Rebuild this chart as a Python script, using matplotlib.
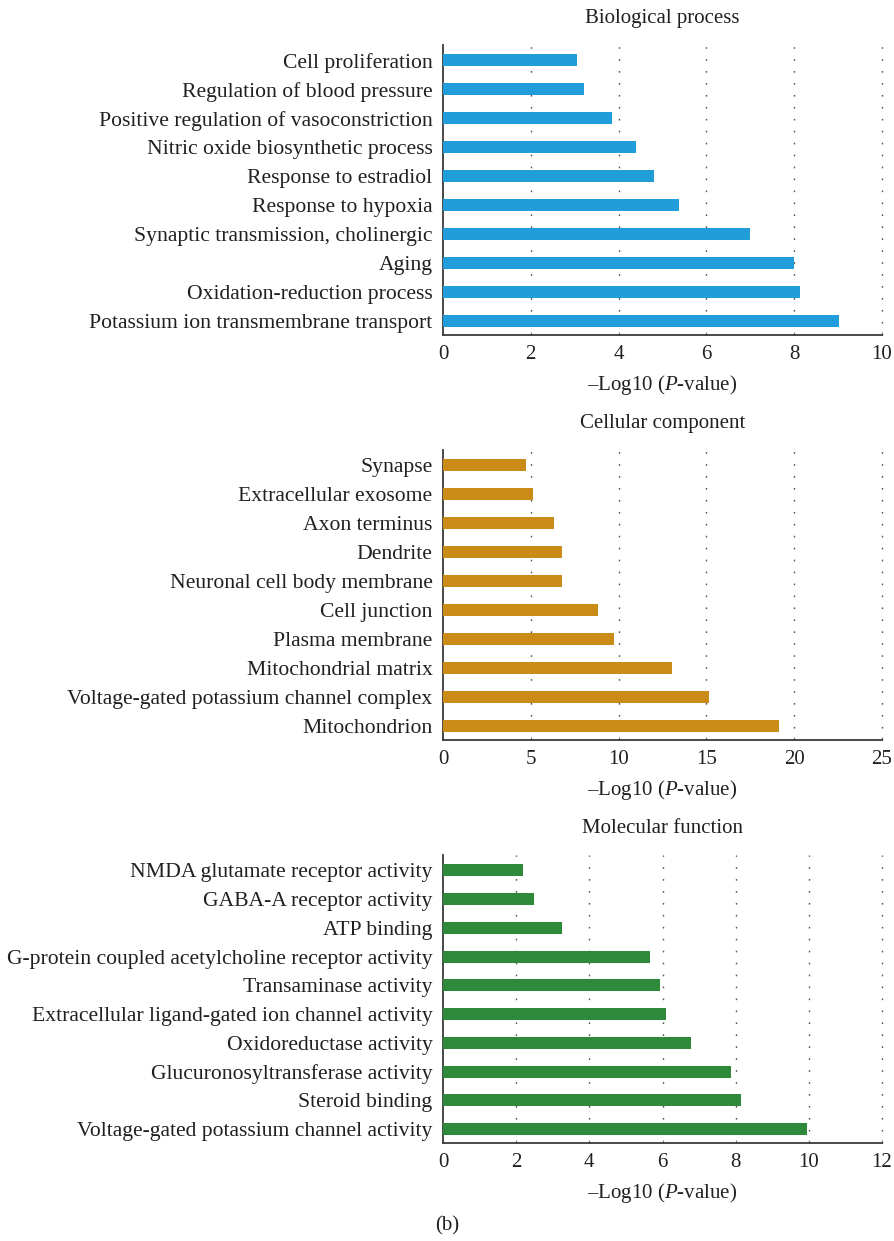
import matplotlib
matplotlib.use("Agg")
import matplotlib.pyplot as plt
import numpy as np

plt.rcParams["font.family"] = ["Liberation Serif", "DejaVu Serif"]
plt.rcParams["mathtext.fontset"] = "custom"
plt.rcParams["mathtext.rm"] = "Liberation Serif"
plt.rcParams["mathtext.it"] = "Liberation Serif:italic"

# Terms listed top to bottom, with their -log10(P) enrichment scores
bp_terms = [
    "Cell proliferation",
    "Regulation of blood pressure",
    "Positive regulation of vasoconstriction",
    "Nitric oxide biosynthetic process",
    "Response to estradiol",
    "Response to hypoxia",
    "Synaptic transmission, cholinergic",
    "Aging",
    "Oxidation-reduction process",
    "Potassium ion transmembrane transport",
]
bp_values = [3.05, 3.21, 3.85, 4.40, 4.81, 5.38, 6.99, 8.00, 8.13, 9.02]

cc_terms = [
    "Synapse",
    "Extracellular exosome",
    "Axon terminus",
    "Dendrite",
    "Neuronal cell body membrane",
    "Cell junction",
    "Plasma membrane",
    "Mitochondrial matrix",
    "Voltage-gated potassium channel complex",
    "Mitochondrion",
]
cc_values = [4.73, 5.13, 6.32, 6.78, 6.78, 8.83, 9.74, 13.04, 15.15, 19.13]

mf_terms = [
    "NMDA glutamate receptor activity",
    "GABA-A receptor activity",
    "ATP binding",
    "G-protein coupled acetylcholine receptor activity",
    "Transaminase activity",
    "Extracellular ligand-gated ion channel activity",
    "Oxidoreductase activity",
    "Glucuronosyltransferase activity",
    "Steroid binding",
    "Voltage-gated potassium channel activity",
]
mf_values = [2.19, 2.49, 3.25, 5.66, 5.93, 6.10, 6.78, 7.87, 8.15, 9.95]

panels = [
    ("Biological process", bp_terms, bp_values, "#219EDA", 10, [0, 2, 4, 6, 8, 10]),
    ("Cellular component", cc_terms, cc_values, "#CB8B17", 25, [0, 5, 10, 15, 20, 25]),
    ("Molecular function", mf_terms, mf_values, "#2C8A3A", 12, [0, 2, 4, 6, 8, 10, 12]),
]

W, H = 894, 1241
fig = plt.figure(figsize=(W / 100, H / 100), dpi=100)

# axes boxes in pixels: (left, top, right, bottom)
boxes = [(443, 45, 882, 335), (443, 450, 882, 740), (443, 855, 882, 1143)]

spine_color = "#3a3a3a"
text_color = "#231f20"
fs_lab = 15.6
fs = 15

for (title, terms, values, color, xmax, ticks), (l, t, r, b) in zip(panels, boxes):
    ax = fig.add_axes([l / W, 1 - b / H, (r - l) / W, (b - t) / H])
    n = len(terms)
    y = np.arange(n)[::-1]
    ax.barh(y, values, height=0.42, color=color, zorder=3)
    ax.set_xlim(0, xmax)
    ax.set_ylim(-0.48, n - 1 + 0.53)
    ax.set_yticks(y)
    ax.set_yticklabels(terms, fontsize=fs_lab, color=text_color)
    ax.set_xticks(ticks)
    ax.set_xticklabels([str(v) for v in ticks], fontsize=fs, color=text_color)
    ax.tick_params(axis="y", length=0, pad=7.5)
    ax.tick_params(axis="x", direction="in", length=2, width=0.8,
                   color="#777777", pad=7)
    for tk in ticks[1:]:
        ax.axvline(tk, color="#555555", linewidth=1.0,
                   linestyle=(0, (1.2, 7.4)), zorder=1, clip_on=False)
    for s in ("top", "right"):
        ax.spines[s].set_visible(False)
    for s in ("left", "bottom"):
        ax.spines[s].set_color(spine_color)
        ax.spines[s].set_linewidth(1.3)
    ax.set_title(title, fontsize=fs, color=text_color, pad=16)
    ax.set_xlabel(r"–Log10 ($\it{P}$-value)", fontsize=fs, color=text_color,
                  labelpad=7)

fig.text(447 / W, 1 - 1226 / H, "(b)", ha="center", va="center",
         fontsize=fs, color=text_color)

fig.savefig("out.png", dpi=100)
